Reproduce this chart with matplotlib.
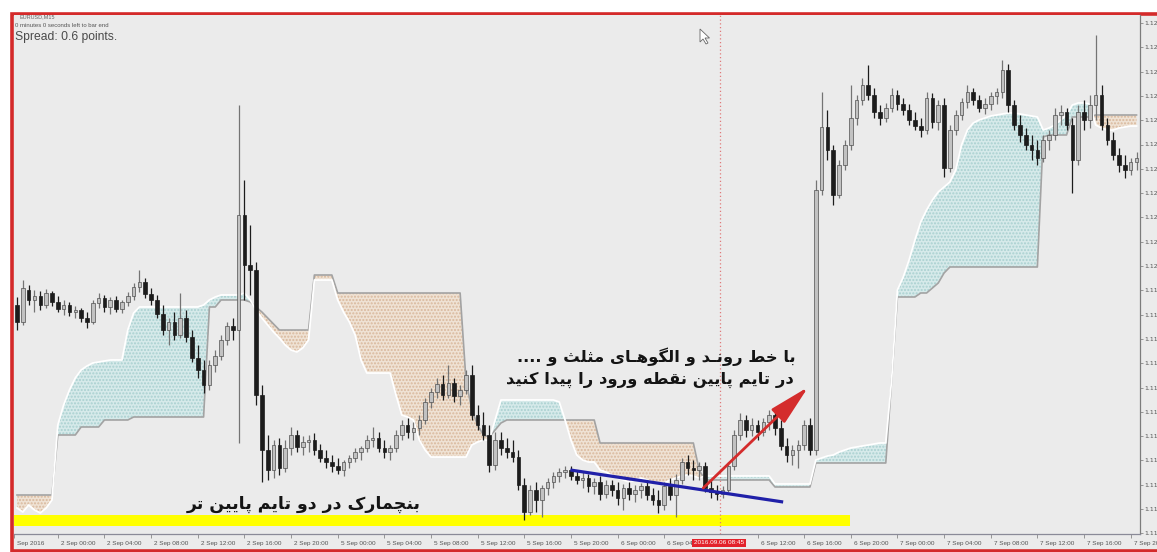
import matplotlib
matplotlib.use("Agg")
import matplotlib.pyplot as plt
import numpy as np
from matplotlib.patches import Rectangle, Polygon

W, H, DPI = 1157, 552, 100

# ---------------- data (30-minute candles, EURUSD) ----------------
opens = [
 1.11975,1.11958,1.11990,1.11980,1.11984,1.11975,1.11987,1.11978,1.11971,1.11975,
 1.11968,1.11970,1.11962,1.11958,1.11977,1.11982,1.11973,1.11980,1.11971,1.11978,
 1.11984,1.11993,1.11998,1.11986,1.11980,1.11966,1.11950,1.11958,1.11945,1.11962,
 1.11943,1.11922,1.11910,1.11895,1.11915,1.11924,1.11940,1.11954,1.11950,1.12065,
 1.12015,1.12010,1.11885,1.11830,1.11810,1.11835,1.11812,1.11832,1.11845,1.11833,
 1.11838,1.11840,1.11830,1.11822,1.11818,1.11814,1.11810,1.11818,1.11822,1.11828,
 1.11832,1.11840,1.11842,1.11832,1.11828,1.11832,1.11845,1.11855,1.11848,1.11852,
 1.11860,1.11878,1.11888,1.11896,1.11885,1.11897,1.11884,1.11890,1.11905,1.11865,
 1.11855,1.11845,1.11815,1.11840,1.11832,1.11828,1.11823,1.11795,1.11768,1.11790,
 1.11780,1.11792,1.11798,1.11804,1.11808,1.11810,1.11804,1.11800,1.11802,1.11794,
 1.11798,1.11786,1.11795,1.11790,1.11782,1.11792,1.11786,1.11790,1.11794,1.11785,
 1.11780,1.11775,1.11794,1.11785,1.11800,1.11818,1.11812,1.11810,1.11814,1.11792,
 1.11788,1.11786,1.11790,1.11814,1.11845,1.11860,1.11850,1.11855,1.11848,1.11858,
 1.11865,1.11852,1.11834,1.11825,1.11830,1.11835,1.11855,1.11830,1.12090,1.12153,
 1.12130,1.12085,1.12115,1.12135,1.12162,1.12180,1.12195,1.12185,1.12168,1.12162,
 1.12172,1.12185,1.12176,1.12170,1.12160,1.12154,1.12150,1.12182,1.12158,1.12175,
 1.12112,1.12150,1.12165,1.12178,1.12188,1.12180,1.12172,1.12176,1.12184,1.12188,
 1.12210,1.12175,1.12155,1.12145,1.12135,1.12130,1.12122,1.12140,1.12145,1.12165,
 1.12168,1.12155,1.12120,1.12168,1.12160,1.12175,1.12185,1.12155,1.12140,1.12125,
 1.12115,1.12110,1.12118]
closes = [
 1.11958,1.11992,1.11980,1.11984,1.11975,1.11987,1.11978,1.11971,1.11975,1.11968,
 1.11970,1.11962,1.11958,1.11977,1.11982,1.11973,1.11980,1.11971,1.11978,1.11984,
 1.11993,1.11998,1.11986,1.11980,1.11966,1.11950,1.11958,1.11945,1.11962,1.11943,
 1.11922,1.11910,1.11895,1.11915,1.11924,1.11940,1.11954,1.11950,1.12065,1.12015,
 1.12010,1.11885,1.11830,1.11810,1.11835,1.11812,1.11832,1.11845,1.11833,1.11838,
 1.11840,1.11830,1.11822,1.11818,1.11814,1.11810,1.11818,1.11822,1.11828,1.11832,
 1.11840,1.11842,1.11832,1.11828,1.11832,1.11845,1.11855,1.11848,1.11852,1.11860,
 1.11878,1.11888,1.11896,1.11885,1.11897,1.11884,1.11890,1.11905,1.11865,1.11855,
 1.11845,1.11815,1.11840,1.11832,1.11828,1.11823,1.11795,1.11768,1.11790,1.11780,
 1.11792,1.11798,1.11804,1.11808,1.11810,1.11804,1.11800,1.11802,1.11794,1.11798,
 1.11786,1.11795,1.11790,1.11782,1.11792,1.11786,1.11790,1.11794,1.11785,1.11780,
 1.11775,1.11794,1.11785,1.11800,1.11818,1.11812,1.11810,1.11814,1.11792,1.11788,
 1.11786,1.11790,1.11814,1.11845,1.11860,1.11850,1.11855,1.11848,1.11858,1.11865,
 1.11852,1.11834,1.11825,1.11830,1.11835,1.11855,1.11830,1.12090,1.12153,1.12130,
 1.12085,1.12115,1.12135,1.12162,1.12180,1.12195,1.12185,1.12168,1.12162,1.12172,
 1.12185,1.12176,1.12170,1.12160,1.12154,1.12150,1.12182,1.12158,1.12175,1.12112,
 1.12150,1.12165,1.12178,1.12188,1.12180,1.12172,1.12176,1.12184,1.12188,1.12210,
 1.12175,1.12155,1.12145,1.12135,1.12130,1.12122,1.12140,1.12145,1.12165,1.12168,
 1.12155,1.12120,1.12168,1.12160,1.12175,1.12185,1.12155,1.12140,1.12125,1.12115,
 1.12110,1.12118,1.12122]
highs = [
 1.11983,1.12000,1.11995,1.11990,1.11989,1.11991,1.11989,1.11984,1.11980,1.11978,
 1.11974,1.11972,1.11968,1.11980,1.11987,1.11985,1.11983,1.11984,1.11980,1.11988,
 1.11997,1.12010,1.12002,1.11992,1.11985,1.11975,1.11962,1.11968,1.11987,1.11970,
 1.11950,1.11935,1.11920,1.11920,1.11930,1.11945,1.11958,1.11962,1.12175,1.12100,
 1.12055,1.12018,1.11895,1.11845,1.11840,1.11842,1.11840,1.11853,1.11850,1.11844,
 1.11845,1.11847,1.11836,1.11830,1.11825,1.11822,1.11820,1.11825,1.11832,1.11834,
 1.11845,1.11853,1.11848,1.11840,1.11835,1.11850,1.11860,1.11862,1.11858,1.11865,
 1.11882,1.11892,1.11902,1.11905,1.11915,1.11902,1.11895,1.11910,1.11915,1.11875,
 1.11868,1.11855,1.11848,1.11848,1.11842,1.11840,1.11830,1.11802,1.11795,1.11798,
 1.11795,1.11802,1.11808,1.11812,1.11814,1.11814,1.11810,1.11808,1.11806,1.11802,
 1.11804,1.11800,1.11800,1.11798,1.11796,1.11798,1.11795,1.11797,1.11800,1.11792,
 1.11790,1.11798,1.11802,1.11806,1.11822,1.11825,1.11820,1.11818,1.11818,1.11800,
 1.11795,1.11794,1.11818,1.11850,1.11867,1.11865,1.11862,1.11860,1.11862,1.11870,
 1.11868,1.11860,1.11842,1.11835,1.11840,1.11860,1.11862,1.12100,1.12188,1.12170,
 1.12135,1.12120,1.12140,1.12195,1.12185,1.12202,1.12215,1.12192,1.12175,1.12177,
 1.12192,1.12190,1.12182,1.12176,1.12168,1.12162,1.12188,1.12187,1.12180,1.12182,
 1.12155,1.12170,1.12182,1.12195,1.12192,1.12185,1.12182,1.12188,1.12192,1.12220,
 1.12216,1.12180,1.12165,1.12152,1.12145,1.12140,1.12145,1.12150,1.12172,1.12175,
 1.12172,1.12162,1.12175,1.12180,1.12185,1.12245,1.12195,1.12162,1.12148,1.12132,
 1.12125,1.12122,1.12128]
lows = [
 1.11950,1.11955,1.11975,1.11968,1.11970,1.11972,1.11974,1.11968,1.11965,1.11964,
 1.11962,1.11958,1.11952,1.11956,1.11972,1.11968,1.11966,1.11968,1.11967,1.11974,
 1.11980,1.11988,1.11982,1.11975,1.11962,1.11945,1.11935,1.11940,1.11942,1.11938,
 1.11918,1.11902,1.11887,1.11890,1.11908,1.11920,1.11935,1.11940,1.11837,1.11980,
 1.11985,1.11875,1.11798,1.11800,1.11802,1.11805,1.11808,1.11825,1.11828,1.11825,
 1.11828,1.11825,1.11818,1.11812,1.11808,1.11806,1.11804,1.11812,1.11818,1.11820,
 1.11828,1.11833,1.11828,1.11822,1.11820,1.11828,1.11840,1.11842,1.11840,1.11845,
 1.11856,1.11872,1.11882,1.11880,1.11882,1.11878,1.11875,1.11886,1.11860,1.11850,
 1.11840,1.11808,1.11810,1.11825,1.11822,1.11818,1.11790,1.11760,1.11765,1.11768,
 1.11763,1.11785,1.11792,1.11798,1.11802,1.11800,1.11796,1.11792,1.11788,1.11786,
 1.11780,1.11782,1.11784,1.11775,1.11770,1.11780,1.11778,1.11782,1.11780,1.11775,
 1.11767,1.11770,1.11780,1.11763,1.11796,1.11805,1.11800,1.11800,1.11788,1.11782,
 1.11780,1.11782,1.11788,1.11810,1.11840,1.11843,1.11844,1.11840,1.11844,1.11850,
 1.11845,1.11830,1.11818,1.11815,1.11812,1.11830,1.11825,1.11825,1.12085,1.12120,
 1.12075,1.12082,1.12110,1.12130,1.12155,1.12175,1.12180,1.12162,1.12155,1.12158,
 1.12168,1.12170,1.12165,1.12155,1.12150,1.12143,1.12146,1.12152,1.12150,1.12103,
 1.12108,1.12145,1.12160,1.12172,1.12175,1.12168,1.12166,1.12170,1.12176,1.12182,
 1.12168,1.12150,1.12138,1.12130,1.12120,1.12115,1.12118,1.12130,1.12140,1.12155,
 1.12150,1.12087,1.12115,1.12150,1.12152,1.12160,1.12150,1.12135,1.12120,1.12108,
 1.12102,1.12105,1.12110]

# Ichimoku cloud edges (Senkou Span A = white edge, Senkou Span B = grey edge)
span_a = ([1.11772,1.11768,1.11775,1.11770,1.11767,1.11772,1.11780,
           1.11855,1.11875,1.11890,1.11902,1.11910,1.11914,1.11917,
           1.11918,1.11919,1.11920,1.11920,1.11920,
           1.11950,1.11967,1.11973] + [1.11973]*10 +
          [1.11975,1.11980,1.11983] + [1.11985]*4 + [1.11987] +
          [1.11980,1.11970,1.11962,1.11955,1.11948,1.11942,1.11935,1.11930,1.11928,1.11932,1.11940] +
          [1.12000]*4 + [1.11980,1.11968,1.11958,1.11945,1.11920] + [1.11907]*5 +
          [1.11885,1.11865,1.11863,1.11860,1.11840,1.11830] + [1.11823]*7 +
          [1.11835,1.11838,1.11840,1.11840,1.11860] + [1.11880]*10 +
          [1.11878,1.11860,1.11840,1.11825,1.11820,1.11818,1.11818] +
          [1.11810,1.11808,1.11805,1.11802,1.11800,1.11798,1.11800,1.11802,1.11800,
           1.11798,1.11797,1.11797,1.11800,1.11802,1.11804,1.11805,1.11804] +
          [1.11802] + [1.11804]*12 + [1.11796]*7 +
          [1.11820,1.11822,1.11824,1.11825,1.11828,1.11830,1.11832,1.11833,1.11834,
           1.11835,1.11836,1.11837,1.11837] +
          [1.11900,1.11990,1.12003,1.12020,1.12040,1.12058,1.12070,1.12080,1.12088,
           1.12093,1.12098,1.12110,1.12135,1.12150,1.12157] +
          [1.12160,1.12162,1.12164,1.12165,1.12166,1.12167] +
          [1.12167,1.12166,1.12165,1.12164,1.12163] +
          [1.12150,1.12152,1.12155,1.12160,1.12165] +
          [1.12175,1.12177,1.12177,1.12176] +
          [1.12155,1.12152,1.12150,1.12150,1.12152,1.12153,1.12154,1.12154])
span_b = ([1.11785]*7 + [1.11845]*4 + [1.11853]*4 + [1.11860]*5 + [1.11863]*13 +
          [1.11973]*2 + [1.11980]*5 + [1.11978,1.11973,1.11968,1.11962,1.11956] +
          [1.11950]*6 + [1.12005]*4 + [1.11987]*22 +
          [1.11900,1.11870,1.11855,1.11845,1.11843,1.11850,1.11857] +
          [1.11860]*16 + [1.11837]*17 + [1.11810] + [1.11800]*12 + [1.11793]*7 +
          [1.11817]*13 + [1.11900,1.11983] + [1.11983]*3 + [1.11987]*2 +
          [1.11992,1.11997,1.12007] + [1.12013]*16 + [1.12143] + [1.12145]*4 +
          [1.12163]*4 + [1.12165]*8)

x_tick_pos = [-0.5, 7, 15, 23, 31, 39, 47, 55, 63, 71, 79, 87, 95, 103, 111,
              127, 135, 143, 151, 159, 167, 175, 183, 191]
x_tick_labels = ['Sep 2016', '2 Sep 00:00', '2 Sep 04:00', '2 Sep 08:00', '2 Sep 12:00',
                 '2 Sep 16:00', '2 Sep 20:00', '5 Sep 00:00', '5 Sep 04:00', '5 Sep 08:00',
                 '5 Sep 12:00', '5 Sep 16:00', '5 Sep 20:00', '6 Sep 00:00', '6 Sep 04:00',
                 '6 Sep 12:00', '6 Sep 16:00', '6 Sep 20:00', '7 Sep 00:00', '7 Sep 04:00',
                 '7 Sep 08:00', '7 Sep 12:00', '7 Sep 16:00', '7 Sep 20:00']
cursor_bar = 120.5
cursor_label = '2016.09.06 08:45'

text_trend = "با خط رونـد و الگوهـای مثلث و ...."
text_entry = "در تایم پایین نقطه ورود را پیدا کنید"
text_bench = "بنچمارک در دو تایم پایین تر"

# ---------------- Persian shaping (matplotlib has no shaping / bidi) ----------------
FORMS = {
    '\u0627': (0xFE8D, 0xFE8E, None, None),
    '\u0628': (0xFE8F, 0xFE90, 0xFE91, 0xFE92),
    '\u062A': (0xFE95, 0xFE96, 0xFE97, 0xFE98),
    '\u062B': (0xFE99, 0xFE9A, 0xFE9B, 0xFE9C),
    '\u062E': (0xFEA5, 0xFEA6, 0xFEA7, 0xFEA8),
    '\u062F': (0xFEA9, 0xFEAA, None, None),
    '\u0631': (0xFEAD, 0xFEAE, None, None),
    '\u0637': (0xFEC1, 0xFEC2, 0xFEC3, 0xFEC4),
    '\u0642': (0xFED5, 0xFED6, 0xFED7, 0xFED8),
    '\u0644': (0xFEDD, 0xFEDE, 0xFEDF, 0xFEE0),
    '\u0645': (0xFEE1, 0xFEE2, 0xFEE3, 0xFEE4),
    '\u0646': (0xFEE5, 0xFEE6, 0xFEE7, 0xFEE8),
    '\u0647': (0xFEE9, 0xFEEA, 0xFEEB, 0xFEEC),
    '\u0648': (0xFEED, 0xFEEE, None, None),
    '\u067E': (0xFB56, 0xFB57, 0xFB58, 0xFB59),
    '\u0686': (0xFB7A, 0xFB7B, 0xFB7C, 0xFB7D),
    '\u06A9': (0xFB8E, 0xFB8F, 0xFB90, 0xFB91),
    '\u06AF': (0xFB92, 0xFB93, 0xFB94, 0xFB95),
    '\u06CC': (0xFBFC, 0xFBFD, 0xFBFE, 0xFBFF),
}


def shape(s):
    s = s.replace('\u064A', '\u06CC').replace('\u0643', '\u06A9')
    def is_ar(ch):
        return ch in FORMS or ch == '\u0640'
    def joins_left(ch):
        return ch == '\u0640' or (ch in FORMS and FORMS[ch][2] is not None)
    out = []
    for k, ch in enumerate(s):
        if ch not in FORMS:
            out.append(ch)
            continue
        prev = s[k - 1] if k > 0 else ''
        nxt = s[k + 1] if k + 1 < len(s) else ''
        cp = bool(prev) and joins_left(prev)
        cn = joins_left(ch) and bool(nxt) and is_ar(nxt)
        iso, fin, ini, med = FORMS[ch]
        if cp and cn:
            g = med
        elif cp:
            g = fin
        elif cn:
            g = ini
        else:
            g = iso
        out.append(chr(g))
    return ''.join(reversed(out))


# ---------------- figure ----------------
fig = plt.figure(figsize=(W / DPI, H / DPI), dpi=DPI, facecolor='white')


def fx(px):
    return px / W


def fy(py):
    return 1 - py / H


BG = '#ebebeb'
fig.add_artist(Rectangle((fx(12), fy(550.5)), fx(1180) - fx(12), fy(13.5) - fy(550.5),
                         transform=fig.transFigure, facecolor=BG, edgecolor='#d42a2a',
                         linewidth=2.6, zorder=0))

ax = fig.add_axes([fx(14), fy(534), fx(1140) - fx(14), fy(15) - fy(534)])
ax.set_facecolor(BG)

o = np.array(opens); c = np.array(closes); h = np.array(highs); l = np.array(lows)
x = np.arange(len(c))
a = np.array(span_a); b = np.array(span_b)

# cloud
ax.fill_between(x, a, b, where=a >= b, interpolate=True, facecolor='#d6eaea',
                edgecolor='#a9d0d0', hatch='.....', linewidth=0, zorder=1)
ax.fill_between(x, a, b, where=b > a, interpolate=True, facecolor='#efe2d4',
                edgecolor='#d9b89c', hatch='.....', linewidth=0, zorder=1)
ax.plot(x, b, color='#a3a3a3', lw=1.2, zorder=2)
ax.plot(x, a, color='#ffffff', lw=1.3, zorder=2)

# benchmark band
ax.add_patch(Rectangle((-0.5, 1.11754), 143.4, 0.00011, facecolor='#ffff00',
                       edgecolor='none', zorder=2.5))

# candles
up = c >= o
ax.vlines(x, l, h, colors=np.where(up, '#747474', '#1c1c1c'), lw=0.9, zorder=3)
body_lo = np.minimum(o, c)
body_h = np.maximum(np.abs(c - o), 0.000015)
ax.bar(x, body_h, width=0.62, bottom=body_lo, color=np.where(up, '#c2c2c2', '#1c1c1c'),
       edgecolor=np.where(up, '#505050', '#1c1c1c'), linewidth=0.5, zorder=4)

# cursor line
ax.axvline(cursor_bar, color='#e07a7a', lw=0.9, ls=(0, (1, 2)), zorder=5)

# trend line and arrow
ax.plot([94.9, 131.4], [1.11810, 1.11778], color='#2020a8', lw=2.3,
        solid_capstyle='butt', zorder=6)
ax.annotate('', xy=(135.7, 1.11893), xytext=(117.7, 1.11792),
            arrowprops=dict(arrowstyle='-|>,head_length=1.8,head_width=0.42',
                            color='#d42c2c', lw=2, mutation_scale=14,
                            shrinkA=0, shrinkB=0), zorder=7)

ax.set_xlim(-0.515, 192.6)
ax.set_ylim(1.11746, 1.12265)

for s in ['left', 'top']:
    ax.spines[s].set_visible(False)
ax.spines['right'].set_color('#7c7c7c')
ax.spines['right'].set_linewidth(0.9)
ax.spines['bottom'].set_color('#8a8a98')
ax.spines['bottom'].set_linewidth(0.9)

yt = [1.12014 + 0.000243 * k for k in range(-11, 11)]
ax.yaxis.tick_right()
ax.set_yticks(yt)
ax.set_yticklabels([f"{v:.5f}" for v in yt])
ax.tick_params(axis='y', labelsize=4.4, labelcolor='#555555', color='#888888',
               length=2.5, width=0.6, pad=0.6)
ax.set_xticks(x_tick_pos)
ax.set_xticklabels([])
ax.tick_params(axis='x', length=3, width=0.6, color='#888888')

for pos, lab in zip(x_tick_pos, x_tick_labels):
    ax.annotate(lab, xy=(pos, 0), xycoords=('data', 'axes fraction'),
                xytext=(3, -9), textcoords='offset pixels', ha='left', va='center',
                fontsize=4.6, color='#555555', family='Liberation Sans',
                annotation_clip=False)

fig.text(fx(719), fy(543), cursor_label, ha='center', va='center', fontsize=4.6,
         color='white', family='Liberation Sans', zorder=12,
         bbox=dict(boxstyle='square,pad=0.3', fc='#e3222b', ec='none'))

# header texts
fig.text(fx(20), fy(17), 'EURUSD,M15', fontsize=4, color='#666666',
         family='Liberation Sans', va='center')
fig.text(fx(15), fy(25.5), '0 minutes 0 seconds left to bar end', fontsize=4.3,
         color='#555555', family='Liberation Sans', va='center')
fig.text(fx(15), fy(37), 'Spread: 0.6 points.', fontsize=8.7, color='#4a4a4a',
         family='Liberation Sans', va='center')

# mouse cursor
cur = [(700, 29), (700, 42), (703, 39), (706, 44), (708, 43), (705, 38), (709.5, 38)]
fig.add_artist(Polygon([(fx(px), fy(py)) for px, py in cur], closed=True,
                       transform=fig.transFigure, facecolor='white',
                       edgecolor='#666666', lw=0.6, zorder=10))

# Persian annotations
fig.text(fx(796), fy(357), shape(text_trend), ha='right', va='center', fontsize=11.8,
         fontweight='bold', family='DejaVu Sans', color='#141414', zorder=10)
fig.text(fx(794), fy(380), shape(text_entry), ha='right', va='center', fontsize=11.8,
         fontweight='bold', family='DejaVu Sans', color='#141414', zorder=10)
fig.text(fx(421), fy(504), shape(text_bench), ha='right', va='center', fontsize=12.5,
         fontweight='bold', family='DejaVu Sans', color='#141414', zorder=10)

fig.savefig('out.png', dpi=DPI, facecolor='white')
